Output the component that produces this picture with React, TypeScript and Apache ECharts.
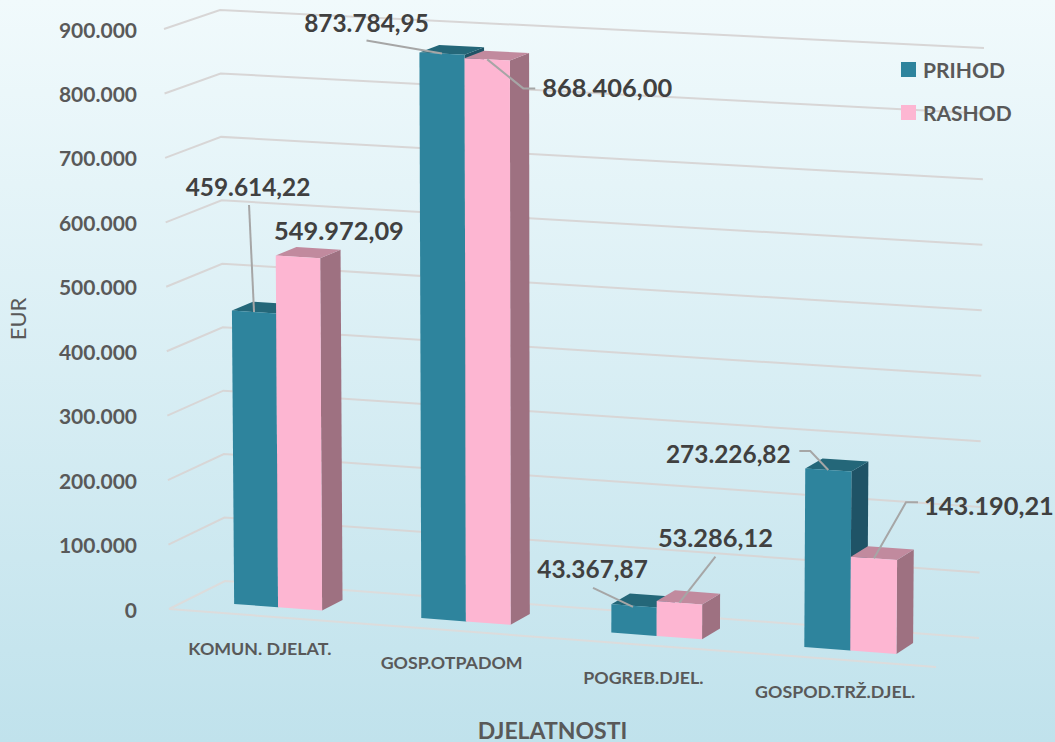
import React, { useEffect, useRef } from "react";
import * as echarts from "echarts";

const categories = ["KOMUN. DJELAT.", "GOSP.OTPADOM", "POGREB.DJEL.", "GOSPOD.TRŽ.DJEL."];
const prihod = [459614.22, 873784.95, 43367.87, 273226.82];
const rashod = [549972.09, 868406.0, 53286.12, 143190.21];
const tickValues = [0, 100000, 200000, 300000, 400000, 500000, 600000, 700000, 800000, 900000];

// label layout, relative to the middle of each bar's top front edge
const prihodLabelOffset = [[-6, -126], [-75.5, -31], [-41.5, -37], [-100, -16]];
const rashodLabelOffset = [[41, -27], [120, 28], [36, -66], [115, -53]];
const prihodLeaders = [
  [[-5, -107], [0, 0]],
  [[-75.5, -13], [0, 0]],
  [[-41, -18], [-1, 1]],
  [[-29, -19], [-18, -19], [0, 0]],
];
const rashodLeaders = [
  [],
  [[0, 0], [36, 29], [48, 29]],
  [[36, -46], [0, 0]],
  [[44, -56], [32, -56], [0, 0]],
];

const FONT = "Lato, 'Open Sans', sans-serif";
const BAR_FRONT = 0.31;
const BAR_BACK = 0.69;
const BAR_BAND_FRACTION = 0.236;

const lerp = (a: number, b: number, k: number) => a + (b - a) * k;

const fmtThousands = (n: number) => String(n).replace(/\B(?=(\d{3})+(?!\d))/g, ".");
const fmtValue = (n: number) => {
  const [whole, dec] = n.toFixed(2).split(".");
  return fmtThousands(Number(whole)) + "," + dec;
};

// oblique view of the plot box: the grid's flat rectangle is taken to the tilted chart
function project(px: number, py: number, d: number, cs: any) {
  const u = (px - cs.x) / cs.width;
  const t = (cs.y + cs.height - py) / cs.height;
  const h = cs.height * lerp(lerp(1, 1.0328, u), lerp(0.9845, 1.0172, u), d);
  const x = px + lerp(56, 43, u) * d + 10 * (u - 0.5) * t;
  const y = cs.y + cs.height + 58 * u - lerp(28, 29, u) * d - h * t;
  return [x, y];
}

const spread = (px: number, cs: any) => (px - (cs.x + cs.width / 2)) / (cs.width * 0.375);

function warp(px: number, cs: any) {
  const s = spread(px, cs);
  return px - 7 + 3.3 * s * s;
}

function barRenderer(
  front: string,
  top: string,
  side: string,
  pos: number,
  offsets: number[][],
  leaders: number[][][],
  labelSize: number
) {
  return (params: any, api: any) => {
    const cs = params.coordSys;
    const cat = api.value(0);
    const val = api.value(1);
    const [cx, yVal] = api.coord([cat, val]);
    const [, yBase] = api.coord([cat, 0]);
    const sp = spread(cx, cs);
    const yTop = yBase - (yBase - yVal) * (1 - 0.007 * sp * sp);
    const band = api.size([1, 0])[0];
    const w = band * BAR_BAND_FRACTION;
    const x0 = warp(cx + (pos - 1) * w, cs);
    const x1 = warp(cx + pos * w, cs);
    const fbl = project(x0, yBase, BAR_FRONT, cs);
    const fbr = project(x1, yBase, BAR_FRONT, cs);
    const ftl = project(x0, yTop, BAR_FRONT, cs);
    const ftr = project(x1, yTop, BAR_FRONT, cs);
    const bbr = project(x1, yBase, BAR_BACK, cs);
    const btr = project(x1, yTop, BAR_BACK, cs);
    const btl = project(x0, yTop, BAR_BACK, cs);
    const ax = (ftl[0] + ftr[0]) / 2;
    const ay = (ftl[1] + ftr[1]) / 2;
    const i = params.dataIndex;
    const children: any[] = [
      { type: "polygon", shape: { points: [fbr, bbr, btr, ftr] }, style: { fill: side } },
      { type: "polygon", shape: { points: [ftl, ftr, btr, btl] }, style: { fill: top } },
      { type: "polygon", shape: { points: [fbl, fbr, ftr, ftl] }, style: { fill: front } },
    ];
    if (leaders[i].length) {
      children.push({
        type: "polyline",
        shape: { points: leaders[i].map((p) => [ax + p[0], ay + p[1]]) },
        style: { stroke: "#a6a6a6", lineWidth: 2, fill: "none" },
      });
    }
    children.push({
      type: "text",
      style: {
        text: fmtValue(val),
        x: ax + offsets[i][0],
        y: ay + offsets[i][1],
        textAlign: "center",
        textVerticalAlign: "middle",
        fontFamily: FONT,
        fontWeight: "bold",
        fontSize: labelSize,
        fill: "#404040",
      },
    });
    return { type: "group", children };
  };
}

function wallRenderer(params: any, api: any) {
  const cs = params.coordSys;
  const [, y] = api.coord([0, api.value(1)]);
  const xL = cs.x;
  const xR = cs.x + cs.width;
  const isFloor = api.value(1) === 0;
  const line = (pts: number[][]) => ({
    type: "polyline",
    shape: { points: pts },
    style: { stroke: isFloor ? "#dcdcdc" : "#d8d6d6", lineWidth: 2, fill: "none" },
  });
  const children = [line([project(xL, y, 0, cs), project(xL, y, 1, cs), project(xR, y, 1, cs)])];
  if (isFloor) children.push(line([project(xL, y, 0, cs), project(xR, y, 0, cs)]));
  return { type: "group", children };
}

function categoryRenderer(params: any, api: any) {
  const cs = params.coordSys;
  const cat = api.value(0);
  const [cx] = api.coord([cat, 0]);
  const [, yBase] = api.coord([cat, 0]);
  const p = project(cx, yBase, 0, cs);
  return {
    type: "text",
    style: {
      text: categories[cat],
      x: p[0] - 5,
      y: p[1] + 31.5,
      textAlign: "center",
      textVerticalAlign: "middle",
      fontFamily: FONT,
      fontWeight: "bold",
      fontSize: 17.8,
      fill: "#595959",
    },
  };
}

export default function App() {
  const ref = useRef<HTMLDivElement>(null);
  useEffect(() => {
    const chart = echarts.init(ref.current!, undefined, { renderer: "svg" });
    chart.setOption({
      animation: false,
      backgroundColor: new echarts.graphic.LinearGradient(0, 0, 0, 1, [
        { offset: 0, color: "#f1fafc" },
        { offset: 1, color: "#c0e2ec" },
      ]),
      grid: { left: 169, top: 29, width: 767, height: 580, containLabel: false, outerBoundsMode: "none" },
      legend: {
        data: ["PRIHOD", "RASHOD"],
        orient: "vertical",
        left: 901,
        top: 59,
        padding: 0,
        icon: "rect",
        itemWidth: 15,
        itemHeight: 15,
        itemGap: 22,
        textStyle: { fontFamily: FONT, fontWeight: "bold", fontSize: 21, color: "#595959", padding: [0, 0, 0, 2] },
      },
      xAxis: {
        type: "category",
        data: categories,
        name: "DJELATNOSTI",
        nameLocation: "middle",
        nameGap: 109,
        nameTextStyle: { fontFamily: FONT, fontWeight: "bold", fontSize: 23, color: "#595959" },
        axisLine: { show: false },
        axisTick: { show: false },
        axisLabel: { show: false },
        splitLine: { show: false },
      },
      yAxis: {
        type: "value",
        min: 0,
        max: 900000,
        interval: 100000,
        name: "EUR",
        nameLocation: "middle",
        nameGap: 141,
        nameTextStyle: { fontFamily: FONT, fontSize: 22, color: "#595959" },
        axisLine: { show: false },
        axisTick: { show: false },
        splitLine: { show: false },
        axisLabel: {
          margin: 32,
          formatter: (v: number) => fmtThousands(v),
          fontFamily: FONT,
          fontWeight: "bold",
          fontSize: 21,
          color: "#595959",
          padding: [0, 0, 2, 0],
        },
      },
      series: [
        {
          type: "custom",
          name: "walls",
          clip: false,
          silent: true,
          renderItem: wallRenderer,
          encode: { x: 0, y: 1 },
          data: tickValues.map((v) => [0, v]),
        },
        {
          type: "custom",
          name: "categories",
          clip: false,
          silent: true,
          renderItem: categoryRenderer,
          encode: { x: 0, y: 1 },
          data: categories.map((_, i) => [i, 0]),
        },
        {
          type: "custom",
          name: "PRIHOD",
          clip: false,
          itemStyle: { color: "#2e849d" },
          renderItem: barRenderer("#2e849d", "#246779", "#1f5366", 0, prihodLabelOffset, prihodLeaders, 24.4),
          encode: { x: 0, y: 1 },
          data: prihod.map((v, i) => [i, v]),
        },
        {
          type: "custom",
          name: "RASHOD",
          clip: false,
          itemStyle: { color: "#fdb6d2" },
          renderItem: barRenderer("#fdb6d2", "#c18a9e", "#9e7181", 1, rashodLabelOffset, rashodLeaders, 25.4),
          encode: { x: 0, y: 1 },
          data: rashod.map((v, i) => [i, v]),
        },
      ],
    });
    return () => chart.dispose();
  }, []);
  return <div ref={ref} style={{ position: "absolute", left: 0, top: 0, width: 1055, height: 742 }} />;
}
